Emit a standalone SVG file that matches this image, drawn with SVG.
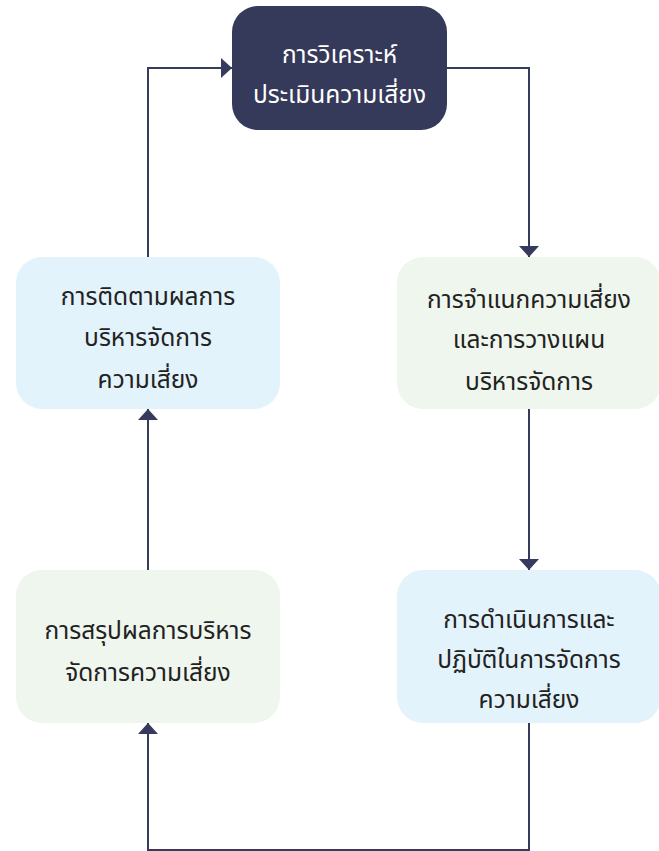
<svg xmlns="http://www.w3.org/2000/svg" width="659" height="851" viewBox="0 0 659 851">
<defs>
<style>
.t{font-family:"Noto Sans Thai","Noto Sans","DejaVu Sans",sans-serif;font-size:24.5px;text-anchor:middle;fill:#222222}
.w{fill:#ffffff}
.c{fill:none;stroke:#363a5c;stroke-width:2}
.blue{fill:#e3f3fb}
.green{fill:#eff6ee}
</style>
<marker id="a" viewBox="0 0 11 20" refX="11" refY="10" markerWidth="11" markerHeight="20" markerUnits="userSpaceOnUse" orient="auto">
<path d="M0,0 L11,10 L0,20 Z" fill="#363a5c"/>
</marker>
</defs>
<g id="connectors">
<path class="c" d="M447,68 H529 V257" marker-end="url(#a)"/>
<path class="c" d="M529,409 V570" marker-end="url(#a)"/>
<path class="c" d="M529,723 V850 H148 V723" marker-end="url(#a)"/>
<path class="c" d="M148,570 V409" marker-end="url(#a)"/>
<path class="c" d="M148,257 V68 H232" marker-end="url(#a)"/>
</g>
<g id="analyze">
<rect x="232" y="6" width="215" height="124" rx="26" fill="#35395a"/>
<text class="t w" x="339.5" y="63">การวิเคราะห์</text>
<text class="t w" x="339.5" y="103">ประเมินความเสี่ยง</text>
</g>
<g id="classify">
<rect class="green" x="397" y="257" width="264" height="152" rx="26"/>
<text class="t" x="529" y="308">การจำแนกความเสี่ยง</text>
<text class="t" x="529" y="348">และการวางแผน</text>
<text class="t" x="529" y="390">บริหารจัดการ</text>
</g>
<g id="implement">
<rect class="blue" x="397" y="570" width="264" height="153" rx="26"/>
<text class="t" x="529" y="628">การดำเนินการและ</text>
<text class="t" x="529" y="668">ปฏิบัติในการจัดการ</text>
<text class="t" x="529" y="708">ความเสี่ยง</text>
</g>
<g id="summarize">
<rect class="green" x="16" y="570" width="264" height="153" rx="26"/>
<text class="t" x="148" y="639">การสรุปผลการบริหาร</text>
<text class="t" x="148" y="681">จัดการความเสี่ยง</text>
</g>
<g id="monitor">
<rect class="blue" x="16" y="257" width="264" height="152" rx="26"/>
<text class="t" x="148" y="305">การติดตามผลการ</text>
<text class="t" x="148" y="346">บริหารจัดการ</text>
<text class="t" x="148" y="388">ความเสี่ยง</text>
</g>
</svg>
